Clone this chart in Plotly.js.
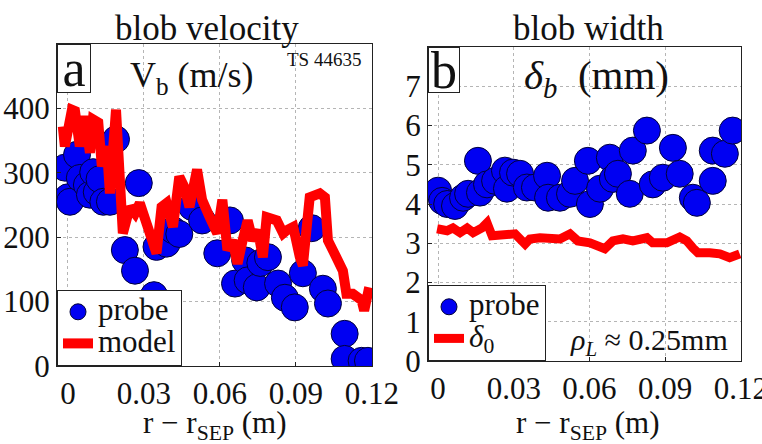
<!DOCTYPE html>
<html>
<head>
<meta charset="utf-8">
<script src="https://cdn.plot.ly/plotly-3.0.1.min.js"></script>
<style>html,body{margin:0;padding:0;background:#fff;}#chart{width:762px;height:444px;}</style>
</head>
<body>
<div id="chart"></div>
<script>
// ---- Panel a: blob velocity ----
const velProbeX = [-0.0012, 0.0, 0.0008, 0.0036, 0.0047, 0.0075, 0.0087, 0.010, 0.0114, 0.0125, 0.014, 0.0166, 0.019, 0.0225, 0.0265, 0.028, 0.034, 0.035, 0.039, 0.0415, 0.044, 0.049, 0.053, 0.059, 0.064, 0.066, 0.070, 0.071, 0.0746, 0.076, 0.079, 0.083, 0.0857, 0.0896, 0.0928, 0.0963, 0.1007, 0.1027, 0.1093, 0.1093, 0.116, 0.1185];
const velProbeY = [308, 262, 255, 328, 292, 281, 266, 301, 270, 290, 255, 255, 352, 180, 148, 284, 110, 185, 190, 211, 205, 247, 226, 175, 226, 128, 164, 133, 122, 160, 169, 128, 106, 91, 144, 214, 120, 97, 50, 11, 8, 8];
const velModelX = [-0.002, -0.0012, 0.0016, 0.0028, 0.0047, 0.0067, 0.0087, 0.0099, 0.012, 0.0134, 0.0154, 0.0166, 0.019, 0.0205, 0.0217, 0.0245, 0.0265, 0.0284, 0.031, 0.035, 0.037, 0.039, 0.0415, 0.044, 0.046, 0.048, 0.051, 0.053, 0.056, 0.059, 0.061, 0.063, 0.065, 0.067, 0.069, 0.071, 0.073, 0.075, 0.077, 0.0785, 0.0825, 0.085, 0.0865, 0.089, 0.0916, 0.0928, 0.0955, 0.0995, 0.1015, 0.1027, 0.106, 0.1086, 0.110, 0.1125, 0.116, 0.117, 0.119];
const velModelY = [372, 341, 398, 396, 341, 388, 331, 383, 378, 310, 341, 268, 398, 310, 206, 247, 237, 253, 226, 175, 247, 253, 216, 294, 278, 247, 305, 258, 231, 206, 258, 180, 195, 159, 195, 226, 195, 211, 169, 231, 226, 206, 211, 216, 169, 156, 262, 268, 262, 195, 169, 148, 112, 112, 102, 86, 122];

// ---- Panel b: blob width ----
const widProbeX = [0.0, 0.0016, 0.0036, 0.0067, 0.0099, 0.0119, 0.0158, 0.0166, 0.0194, 0.0226, 0.0265, 0.0273, 0.0297, 0.0325, 0.0352, 0.0384, 0.0432, 0.0436, 0.0483, 0.0523, 0.0543, 0.0594, 0.0602, 0.0642, 0.0681, 0.0693, 0.0713, 0.0760, 0.0772, 0.0828, 0.0851, 0.0891, 0.0931, 0.0958, 0.101, 0.1026, 0.1089, 0.1089, 0.1137, 0.1168];
const widProbeY = [4.34, 4.08, 4.0, 3.95, 4.16, 4.26, 5.1, 4.29, 4.5, 4.59, 4.85, 4.39, 4.8, 4.77, 4.42, 4.42, 4.72, 4.16, 4.16, 4.26, 4.59, 5.1, 4.0, 4.39, 5.18, 4.64, 4.77, 4.26, 5.36, 5.87, 4.5, 4.67, 5.43, 4.77, 4.16, 4.03, 4.59, 5.36, 5.28, 5.87];
const widModelX = [-0.0004, 0.0036, 0.0059, 0.0087, 0.0115, 0.0139, 0.0174, 0.0194, 0.0214, 0.0246, 0.0277, 0.0305, 0.0345, 0.0364, 0.0404, 0.0444, 0.0483, 0.0523, 0.0554, 0.0602, 0.0661, 0.0693, 0.0733, 0.0772, 0.0828, 0.0851, 0.0907, 0.0958, 0.0986, 0.101, 0.103, 0.1077, 0.1117, 0.1156, 0.1196];
const widModelY = [3.37, 3.32, 3.39, 3.27, 3.39, 3.27, 3.39, 3.52, 3.19, 3.19, 3.24, 3.24, 2.98, 3.11, 3.14, 3.14, 3.11, 3.24, 3.06, 3.01, 2.86, 3.06, 3.11, 3.06, 3.14, 3.01, 3.01, 3.16, 3.06, 2.88, 2.76, 2.76, 2.73, 2.63, 2.73];

const xTickVals = [0, 0.03, 0.06, 0.09, 0.12];
const xTickText = ['0', '0.03', '0.06', '0.09', '0.12'];
const velTickVals = [0, 100, 200, 300, 400];
const widTickVals = [0, 1, 2, 3, 4, 5, 6, 7];

const SERIF = 'Liberation Serif';
const W = 762, H = 444;
const px = v => v / W;
const py = v => 1 - v / H;

const probeMarker = {size: 27, color: '#0000f2', line: {color: '#00003a', width: 1}};
const big = t => '<span style="font-size:31px">' + t + '</span>';

const traces = [
  {x: velProbeX, y: velProbeY, type: 'scatter', mode: 'markers', name: big('probe'),
   marker: probeMarker, xaxis: 'x', yaxis: 'y', legend: 'legend'},
  {x: velModelX, y: velModelY, type: 'scatter', mode: 'lines', name: big('model'),
   line: {color: '#ff0000', width: 10}, xaxis: 'x', yaxis: 'y', legend: 'legend'},
  {x: widProbeX, y: widProbeY, type: 'scatter', mode: 'markers', name: big('probe'),
   marker: probeMarker, xaxis: 'x2', yaxis: 'y2', legend: 'legend2'},
  {x: widModelX, y: widModelY, type: 'scatter', mode: 'lines', name: big('<i>δ</i><sub>0</sub>'),
   line: {color: '#ff0000', width: 9}, xaxis: 'x2', yaxis: 'y2', legend: 'legend2'}
];

const axisCommon = {
  showline: true, mirror: true, linecolor: '#222', linewidth: 1,
  ticks: 'inside', ticklen: 4, tickcolor: '#222',
  showgrid: true, gridcolor: '#b5b5b5', griddash: 'dot', gridwidth: 1,
  zeroline: false, tickfont: {family: SERIF, size: 31, color: '#111'},
  ticklabeloverflow: 'allow',
  automargin: false, fixedrange: true
};

const legendCommon = {
  bgcolor: '#ffffff', bordercolor: '#222', borderwidth: 1,
  font: {family: SERIF, size: 22, color: '#111'},
  xanchor: 'left', yanchor: 'bottom', tracegroupgap: 0, itemwidth: 30
};

const ann = (x, y, text, size, extra) => Object.assign({
  xref: 'paper', yref: 'paper', x: px(x), y: py(y), text: text, showarrow: false,
  xanchor: 'center', yanchor: 'middle', font: {family: SERIF, size: size, color: '#111'}
}, extra || {});

const layout = {
  width: W, height: H,
  margin: {l: 0, r: 0, t: 0, b: 0},
  paper_bgcolor: '#ffffff', plot_bgcolor: '#ffffff',
  xaxis: Object.assign({}, axisCommon, {domain: [px(57), px(372)], range: [-0.0043, 0.1201],
    tickvals: xTickVals, ticktext: xTickText, anchor: 'y'}),
  yaxis: Object.assign({}, axisCommon, {domain: [py(366), py(44)], range: [0, 500],
    tickvals: velTickVals, anchor: 'x'}),
  xaxis2: Object.assign({}, axisCommon, {domain: [px(428), px(741)], range: [-0.004, 0.1201],
    tickvals: xTickVals, ticktext: xTickText, anchor: 'y2'}),
  yaxis2: Object.assign({}, axisCommon, {domain: [py(361), py(47)], range: [0, 8],
    tickvals: widTickVals, anchor: 'x2'}),
  legend: Object.assign({}, legendCommon, {x: px(57), y: py(366)}),
  legend2: Object.assign({}, legendCommon, {x: px(428), y: py(361)}),
  showlegend: true,
  annotations: [
    ann(207, 28, 'blob velocity', 35),
    ann(588, 28, 'blob width', 35),
    ann(57, 44, 'a', 52, {xanchor: 'left', yanchor: 'top', width: 32, height: 47, borderpad: 0,
      bordercolor: '#222', borderwidth: 1, bgcolor: '#fff'}),
    ann(428, 47, 'b', 52, {xanchor: 'left', yanchor: 'top', width: 30, height: 44, borderpad: 0,
      bordercolor: '#222', borderwidth: 1, bgcolor: '#fff'}),
    ann(192, 77, 'V<sub>b</sub> (m/s)', 36),
    ann(324, 60, 'TS 44635', 19),
    ann(596, 78, '<i>δ</i><sub><i>b</i></sub>  (mm)', 41),
    ann(649, 342, '<i>ρ</i><sub><i>L</i></sub> ≈ 0.25mm', 30),
    ann(215, 425, 'r − r<sub>SEP</sub> (m)', 31),
    ann(588, 425, 'r − r<sub>SEP</sub> (m)', 31)
  ]
};

Plotly.newPlot('chart', traces, layout, {displayModeBar: false, staticPlot: true});
</script>
</body>
</html>
